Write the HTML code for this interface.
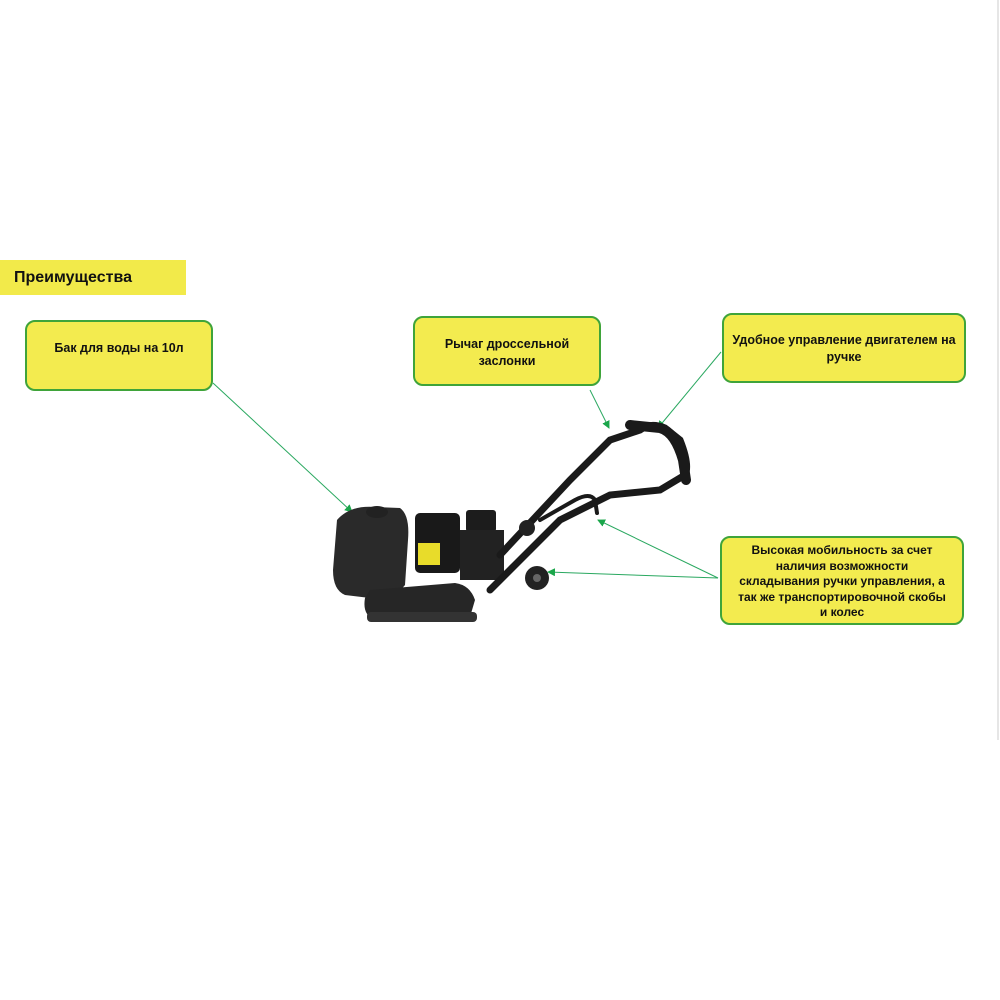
<!DOCTYPE html>
<html><head><meta charset="utf-8"><style>
html,body{margin:0;padding:0;background:#fff;}
body{width:1000px;height:1000px;position:relative;overflow:hidden;font-family:"Liberation Sans","DejaVu Sans",sans-serif;}
.hdr{position:absolute;left:0;top:260px;width:186px;height:35px;background:#f2ea4a;font-weight:bold;font-size:16px;line-height:35px;padding-left:14px;box-sizing:border-box;color:#111;}
.b{position:absolute;background:#f3eb4f;border:2px solid #3fa43a;border-radius:10px;box-sizing:border-box;font-weight:bold;font-size:12.5px;line-height:17px;text-align:center;color:#111;}
</style></head><body>
<div style="position:absolute;left:997px;top:0;width:2px;height:740px;background:#e6e6e6"></div>
<div class="hdr">Преимущества</div>
<div class="b" style="left:25px;top:320px;width:188px;height:71px;padding-top:18px">Бак для воды на 10л</div>
<div class="b" style="left:413px;top:316px;width:188px;height:70px;padding-top:18px">Рычаг дроссельной<br>заслонки</div>
<div class="b" style="left:722px;top:313px;width:244px;height:70px;padding-top:17px">Удобное управление двигателем на<br>ручке</div>
<div class="b" style="left:720px;top:536px;width:244px;height:89px;padding-top:5px;font-size:12px;line-height:15.5px">Высокая мобильность за счет<br>наличия возможности<br>складывания ручки управления, а<br>так же транспортировочной скобы<br>и колес</div>
<svg width="1000" height="1000" style="position:absolute;left:0;top:0">
<defs><marker id="a" markerWidth="8" markerHeight="8" refX="7" refY="4" orient="auto" markerUnits="userSpaceOnUse"><path d="M0,0 L8,4 L0,8 z" fill="#1aa64a"/></marker></defs>
<g stroke="#2aa860" stroke-width="1" fill="none" marker-end="url(#a)">
<line x1="213" y1="383" x2="352" y2="512"/>
<line x1="590" y1="390" x2="609" y2="428"/>
<line x1="721" y1="352" x2="658" y2="428"/>
<line x1="718" y1="578" x2="598" y2="520"/>
<line x1="718" y1="578" x2="548" y2="572"/>
</g>
<g fill="#1c1c1c">
<path d="M337,520 Q350,505 375,507 L400,508 Q410,515 408,540 L405,585 Q395,598 370,598 L345,595 Q333,590 333,570 Z" fill="#2a2a2a"/>
<ellipse cx="377" cy="512" rx="11" ry="6" fill="#222"/>
<rect x="415" y="513" width="45" height="60" rx="5" fill="#191919"/>
<rect x="418" y="543" width="22" height="22" fill="#e8dc2a"/>
<rect x="466" y="510" width="30" height="22" rx="3"/>
<rect x="460" y="530" width="44" height="50" fill="#222"/>
<path d="M370,590 L455,583 Q470,585 475,600 L470,617 L375,620 Q362,615 365,598 Z" fill="#262626"/>
<rect x="367" y="612" width="110" height="10" rx="4" fill="#333"/>
</g>
<g stroke="#1a1a1a" fill="none" stroke-linecap="round">
<path d="M490,590 L560,520 L610,495 L660,490 L685,475 Q690,465 680,440 L665,428 Q650,422 640,430 L610,440 L570,480 L500,555" stroke-width="7"/>
<path d="M630,425 L660,428 Q675,432 683,460 L686,480" stroke-width="10"/>
<path d="M540,520 L575,500 Q590,492 595,500 L597,513" stroke-width="4"/>
</g>
<circle cx="537" cy="578" r="12" fill="#222"/><circle cx="537" cy="578" r="4" fill="#666"/>
<circle cx="527" cy="528" r="8" fill="#222"/>
</svg>
</body></html>
